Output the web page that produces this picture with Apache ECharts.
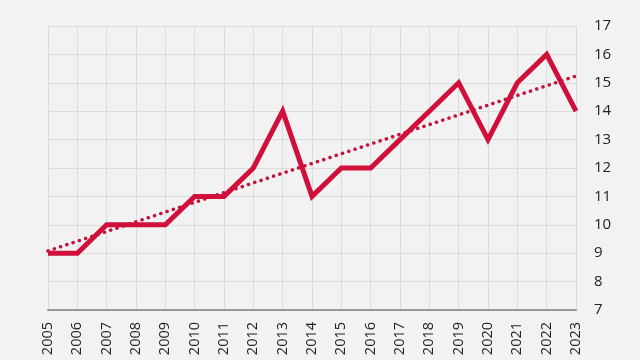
<!DOCTYPE html>
<html><head><meta charset="utf-8">
<script src="https://cdn.jsdelivr.net/npm/echarts@6/dist/echarts.min.js"></script>
<style>html,body{margin:0;padding:0;background:#f2f2f2}#c{width:640px;height:360px}</style>
</head><body><div id="c"></div>
<script>
const years = ['2005','2006','2007','2008','2009','2010','2011','2012','2013','2014','2015','2016','2017','2018','2019','2020','2021','2022','2023'];
const values = [9,9,10,10,10,11,11,12,14,11,12,12,13,14,15,13,15,16,14];
const trendStart = 9.08;
const trendEnd = 15.24;
const yTicks = [7,8,9,10,11,12,13,14,15,16,17];

const trend = years.map((y,i)=> i===0 ? trendStart : (i===years.length-1 ? trendEnd : null));
const chart = echarts.init(document.getElementById('c'));
chart.setOption({
  backgroundColor:'#f2f2f2',
  animation:false,
  grid:{left:48,right:64,top:26,bottom:50},
  xAxis:{type:'category',data:years,boundaryGap:false,
    axisLine:{show:true,lineStyle:{color:'#9a9a9a',width:2}},
    axisTick:{show:false},
    axisLabel:{rotate:90,color:'#222',fontFamily:'Open Sans',fontSize:14.5,margin:12,interval:0},
    splitLine:{show:true,lineStyle:{color:'#dcdcdc',width:1}}},
  yAxis:{type:'value',position:'right',min:yTicks[0],max:yTicks[yTicks.length-1],interval:1,
    axisLine:{show:false},axisTick:{show:false},
    axisLabel:{color:'#222',fontFamily:'Open Sans',fontSize:15,margin:18},
    splitLine:{show:true,lineStyle:{color:'#dcdcdc',width:1}}},
  series:[
    {type:'line',data:trend,connectNulls:true,symbol:'none',z:2,
      lineStyle:{color:'#c8103a',width:3.5,type:[0.1,6.5],cap:'round'}},
    {type:'line',data:values,symbol:'none',z:3,
      lineStyle:{color:'#d0103a',width:5,join:'miter'}}
  ]
});
</script></body></html>
